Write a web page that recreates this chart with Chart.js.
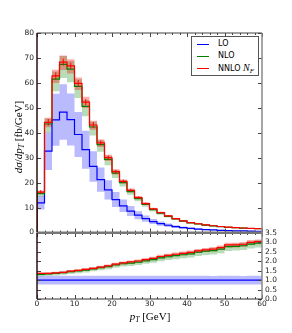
<!DOCTYPE html>
<html><head><meta charset="utf-8">
<script src="https://cdn.jsdelivr.net/npm/chart.js@4.4.1/dist/chart.umd.min.js"></script>
<style>
html,body{margin:0;padding:0;background:#fff;}
#wrap{position:relative;width:292px;height:333px;overflow:hidden;background:#fff;}
canvas{position:absolute;left:0;}
#cMain{top:0;}
#cRatio{top:225px;}
.legend{position:absolute;left:191px;top:36px;width:68px;height:40px;border:1px solid #555;background:#fff;box-sizing:border-box;font-family:'DejaVu Sans',sans-serif;font-size:8px;color:#000;}
.legend .row{position:absolute;left:0;height:10px;width:100%;}
.legend .ln{position:absolute;left:5px;top:5px;width:12px;height:0;border-top:1px solid;}
.legend .tx{position:absolute;left:26px;top:0;line-height:10px;white-space:nowrap;}
.mi{font-family:'Liberation Serif','DejaVu Serif',serif;font-style:italic;}
.ytitle{position:absolute;left:-82px;top:129px;width:200px;height:16px;text-align:center;transform:rotate(-90deg);font-family:'Liberation Serif','DejaVu Serif',serif;font-size:11px;line-height:16px;white-space:nowrap;}
.xtitle{position:absolute;left:100px;top:309px;width:100px;text-align:center;font-family:'Liberation Serif','DejaVu Serif',serif;font-size:11px;line-height:14px;white-space:nowrap;}
sub{font-size:70%;vertical-align:-2px;line-height:0;}
</style>
</head><body>
<div id="wrap">
<canvas id="cMain" width="292" height="240"></canvas>
<canvas id="cRatio" width="292" height="108"></canvas>
<div class="ytitle"><span class="mi">dσ</span>/<span class="mi">dp<sub>T</sub></span> [fb/GeV]</div>
<div class="xtitle"><span class="mi">p<sub>T</sub></span> [GeV]</div>
<div class="legend">
  <div class="row" style="top:2px"><div class="ln" style="border-color:#0000ff"></div><div class="tx">LO</div></div>
  <div class="row" style="top:14px"><div class="ln" style="border-color:#008000"></div><div class="tx">NLO</div></div>
  <div class="row" style="top:26px"><div class="ln" style="border-color:#ff0000"></div><div class="tx">NNLO <span class="mi" style="font-size:10px">N<sub>F</sub></span></div></div>
</div>
</div>
<script>
// ---- data ----
const binEdges = [0,2,4,6,8,10,12,14,16,18,20,22,24,26,28,30,32,34,36,38,40,42,44,46,48,50,52,54,56,58,60];
const mainYTicks = [0,10,20,30,40,50,60,70,80];
const ratioYTicks = [0,0.5,1,1.5,2,2.5,3,3.5];
const xTickLabels = [0,10,20,30,40,50,60];

const loCentral = [11.9,32.6,45.2,48.3,45.3,39.3,33.2,26.5,21.2,17.1,13.2,10.7,8.6,6.95,5.55,4.4,3.55,2.9,2.36,1.94,1.62,1.37,1.17,1.02,0.88,0.75,0.68,0.62,0.55,0.51];
const loLow  = [9.2,25.1,34.8,37.2,34.9,30.3,25.6,20.4,16.3,13.2,10.2,8.2,6.6,5.35,4.27,3.39,2.73,2.23,1.82,1.49,1.25,1.05,0.90,0.79,0.68,0.58,0.52,0.48,0.42,0.39];
const loHigh = [14.6,40.1,55.6,59.4,55.7,48.3,40.8,32.6,26.1,21.0,16.2,13.2,10.6,8.55,6.83,5.41,4.37,3.57,2.90,2.39,1.99,1.69,1.44,1.25,1.08,0.92,0.84,0.76,0.68,0.63];

const nloCentral = [15.6,43.5,61.5,67.4,65.5,58.6,50.6,42.3,35.2,29.3,23.8,20.0,16.4,13.6,11.25,9.2,7.75,6.5,5.42,4.55,3.88,3.4,2.97,2.62,2.33,2.08,1.9,1.75,1.6,1.51];
const nloLow  = [14.4,40.0,56.6,62.0,60.3,53.9,46.6,38.9,32.4,27.0,21.9,18.4,15.1,12.5,10.35,8.46,7.13,5.98,4.99,4.19,3.57,3.13,2.73,2.41,2.14,1.91,1.75,1.61,1.47,1.39];
const nloHigh = [16.4,45.7,64.6,70.8,68.8,61.5,53.1,44.4,37.0,30.8,25.0,21.0,17.2,14.3,11.8,9.66,8.14,6.83,5.69,4.78,4.07,3.57,3.12,2.75,2.45,2.18,2.0,1.84,1.68,1.59];

const nnloCentral = [16.2,44.2,62.8,68.3,66.8,59.8,52.3,43.1,35.9,30.0,24.4,20.5,16.9,14.0,11.6,9.5,8.0,6.7,5.6,4.7,4.0,3.5,3.05,2.7,2.4,2.15,1.95,1.8,1.65,1.55];
const nnloLow  = [15.5,42.2,60.0,65.2,63.8,57.1,49.9,41.2,34.3,28.7,23.3,19.6,16.1,13.4,11.1,9.07,7.64,6.4,5.35,4.49,3.82,3.34,2.91,2.58,2.29,2.05,1.86,1.72,1.58,1.48];
const nnloHigh = [16.8,46.0,65.3,71.0,69.5,62.2,54.4,44.8,37.3,31.2,25.4,21.3,17.6,14.6,12.1,9.88,8.32,6.97,5.82,4.89,4.16,3.64,3.17,2.81,2.5,2.24,2.03,1.87,1.72,1.61];
const nnloErr = [0.8,1.3,1.4,1.4,1.3,1.3,1.2,1.2,1.0,0.9,0.8,0.7,0.6,0.5,0.4,0.35,0.3,0.3,0.25,0.2,0.2,0.15,0.15,0.15,0.1,0.1,0.1,0.1,0.1,0.1];

// ---- helpers ----
function stepPts(vals, lead){
  const pts = [];
  if (lead) pts.push({x: binEdges[0], y: 0});
  vals.forEach((v,i)=>pts.push({x: binEdges[i], y: v}));
  pts.push({x: binEdges[vals.length], y: vals[vals.length-1]});
  return pts;
}
function errPts(c, e){
  const pts = [];
  c.forEach((v,i)=>{
    const xc = (binEdges[i]+binEdges[i+1])/2;
    pts.push({x: xc, y: v-e[i]}, {x: xc, y: v+e[i]}, {x: xc, y: null});
  });
  return pts;
}
const rel = (a) => a.map((v,i)=>v/loCentral[i]);

const BLUE='#0000ff', GREEN='#008000', RED='#ff0000';
const BAND_B='rgba(0,0,255,0.27)', BAND_G='rgba(0,128,0,0.28)', BAND_R='rgba(255,0,0,0.32)';

function band(data, fillTo, color, order){
  return {type:'line', data, stepped:true, borderWidth:0, borderColor:'rgba(0,0,0,0)', pointRadius:0,
    fill: fillTo===null ? false : fillTo, backgroundColor: color, order};
}
function line(data, color, order, w){
  return {type:'line', data, stepped:true, borderWidth:w||1.2, borderColor:color, pointRadius:0, fill:false, order};
}

const framePlugin = {
  id:'frame',
  afterDraw(chart, args, o){
    const {ctx, chartArea:a} = chart;
    const xs = chart.scales.x, ys = chart.scales[o.yId];
    ctx.save();
    ctx.strokeStyle = '#444'; ctx.lineWidth = 1;
    ctx.beginPath();
    for (let v = 0; v <= 60; v += 2){
      const px = Math.round(xs.getPixelForValue(v)) + 0.5;
      const len = (v % 10 === 0) ? 4 : 2;
      ctx.moveTo(px, a.bottom); ctx.lineTo(px, a.bottom - len);
      ctx.moveTo(px, a.top); ctx.lineTo(px, a.top + len);
    }
    for (const v of o.yTicks){
      const py = Math.round(ys.getPixelForValue(v)) + 0.5;
      ctx.moveTo(a.left, py); ctx.lineTo(a.left + 4, py);
      ctx.moveTo(a.right, py); ctx.lineTo(a.right - 4, py);
    }
    ctx.stroke();
    const seg = (x1,y1,x2,y2,c,w)=>{ctx.beginPath();ctx.strokeStyle=c;ctx.lineWidth=w;ctx.moveTo(x1,y1);ctx.lineTo(x2,y2);ctx.stroke();};
    seg(a.left, a.top, a.right, a.top, o.top, o.topW);
    seg(a.right, a.top, a.right, a.bottom, '#888', 1.5);
    seg(a.left, a.bottom, a.right, a.bottom, o.bottom, o.bottomW);
    seg(a.left, a.top, a.left, a.bottom, '#2a0f0f', 1.5);
    ctx.restore();
  }
};

const tickFont = {family:"'DejaVu Sans', sans-serif", size:7.5};

// ---- main panel ----
new Chart(document.getElementById('cMain'), {
  type:'line',
  data:{datasets:[
    band(stepPts(loLow), null, BAND_B, 30),
    band(stepPts(loHigh), 0, BAND_B, 30),
    band(stepPts(nloLow), null, BAND_G, 20),
    band(stepPts(nloHigh), 2, BAND_G, 20),
    band(stepPts(nnloLow), null, BAND_R, 15),
    band(stepPts(nnloHigh), 4, BAND_R, 15),
    line(stepPts(loCentral, true), BLUE, 3),
    line(stepPts(nloCentral, true), GREEN, 2),
    line(stepPts(nnloCentral, true), RED, 1),
    {type:'line', data: errPts(nnloCentral, nnloErr), stepped:false, spanGaps:false, borderWidth:1, borderColor:RED, pointRadius:0, fill:false, order:0}
  ]},
  options:{
    responsive:false, animation:false, devicePixelRatio:1,
    layout:{padding:{left:0, right:30, top:33, bottom:7}},
    plugins:{legend:{display:false}, tooltip:{enabled:false}, frame:{yId:'y', yTicks:mainYTicks, top:'#444', topW:1.2, bottom:'#777', bottomW:2}},
    scales:{
      x:{type:'linear', min:0, max:60, display:false, offset:false},
      y:{type:'linear', min:0, max:80, position:'left',
        afterFit:(s)=>{s.width = 37;},
        afterBuildTicks:(s)=>{s.ticks = mainYTicks.map(v=>({value:v}));},
        grid:{display:false, drawTicks:false}, border:{display:false},
        ticks:{font:tickFont, color:'#222', padding:3, autoSkip:false, callback:(v)=>String(v)}}
    }
  },
  plugins:[framePlugin]
});

// ---- ratio panel ----
new Chart(document.getElementById('cRatio'), {
  type:'line',
  data:{datasets:[
    band(stepPts(rel(loLow)), null, BAND_B, 30),
    band(stepPts(rel(loHigh)), 0, BAND_B, 30),
    band(stepPts(rel(nloLow)), null, BAND_G, 20),
    band(stepPts(rel(nloHigh)), 2, BAND_G, 20),
    band(stepPts(rel(nnloLow)), null, BAND_R, 15),
    band(stepPts(rel(nnloHigh)), 4, BAND_R, 15),
    line(stepPts(rel(loCentral)), BLUE, 3),
    line(stepPts(rel(nloCentral)), GREEN, 2),
    line(stepPts(rel(nnloCentral)), RED, 1)
  ]},
  options:{
    responsive:false, animation:false, devicePixelRatio:1,
    layout:{padding:{left:37, right:0, top:8, bottom:0}},
    plugins:{legend:{display:false}, tooltip:{enabled:false}, frame:{yId:'y', yTicks:ratioYTicks, top:'#777', topW:2, bottom:'#333', bottomW:1.2}},
    scales:{
      x:{type:'linear', min:0, max:60, position:'bottom', offset:false,
        afterFit:(s)=>{s.height = 34;},
        afterBuildTicks:(s)=>{s.ticks = xTickLabels.map(v=>({value:v}));},
        grid:{display:false, drawTicks:false}, border:{display:false},
        ticks:{font:tickFont, color:'#222', padding:1, maxRotation:0, autoSkip:false, callback:(v)=>String(v)}},
      y:{type:'linear', min:0, max:3.5, position:'right',
        afterFit:(s)=>{s.width = 30;},
        afterBuildTicks:(s)=>{s.ticks = ratioYTicks.map(v=>({value:v}));},
        grid:{display:false, drawTicks:false}, border:{display:false},
        ticks:{font:tickFont, color:'#222', padding:3, autoSkip:false, callback:(v)=>Number(v).toFixed(1)}}
    }
  },
  plugins:[framePlugin]
});
</script>
</body></html>
